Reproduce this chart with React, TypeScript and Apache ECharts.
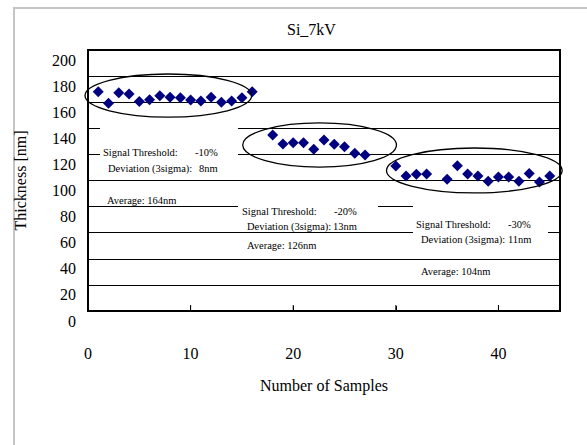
import React, { useEffect, useRef } from "react";
import * as echarts from "echarts";

const chartTitle = "Si_7kV";
const xAxisName = "Number of Samples";
const yAxisName = "Thickness [nm]";

const samplesGroup1 = [1, 2, 3, 4, 5, 6, 7, 8, 9, 10, 11, 12, 13, 14, 15, 16];
const thicknessGroup1 = [168.0, 159.2, 167.3, 166.3, 160.5, 161.9, 165.0, 163.7, 163.4, 161.7, 160.9, 163.7, 159.9, 160.9, 163.4, 168.0];

const samplesGroup2 = [18, 19, 20, 21, 22, 23, 24, 25, 26, 27];
const thicknessGroup2 = [134.9, 128.0, 129.0, 129.0, 123.9, 131.0, 127.7, 125.9, 120.8, 119.5];

const samplesGroup3 = [30, 31, 32, 33, 35, 36, 37, 38, 39, 40, 41, 42, 43, 44, 45];
const thicknessGroup3 = [111.1, 103.4, 104.7, 105.0, 100.9, 111.3, 105.0, 103.4, 99.4, 102.6, 102.6, 99.4, 105.3, 98.9, 103.4];

const xTickValues = [10, 20, 30, 40];

const thresholdLabels = ["-10%", "-20%", "-30%"];
const deviationLabels = ["8nm", "13nm", "11nm"];
const averageLabels = ["Average: 164nm", "Average: 126nm", "Average: 104nm"];

const X_MIN = 0;
const X_MAX = 46;
const Y_MIN = 0;
const Y_MAX = 200;

const FONT = "Liberation Serif, serif";

function pairs(xs: number[], ys: number[]) {
  return xs.map((x, i) => [x, ys[i]]);
}

export default function App() {
  const ref = useRef<HTMLDivElement | null>(null);

  useEffect(() => {
    document.body.style.margin = "0";
    if (!ref.current) return;
    const chart = echarts.init(ref.current, undefined, { renderer: "svg" });

    const data = [
      ...pairs(samplesGroup1, thicknessGroup1),
      ...pairs(samplesGroup2, thicknessGroup2),
      ...pairs(samplesGroup3, thicknessGroup3),
    ];

    chart.setOption({
      animation: false,
      title: {
        text: chartTitle,
        left: 287,
        top: 21,
        padding: 0,
        textStyle: { fontFamily: FONT, fontSize: 16, fontWeight: "normal", color: "#000" },
      },
      grid: { left: 88, top: 50, right: 27, bottom: 134 },
      xAxis: {
        type: "value",
        min: X_MIN,
        max: X_MAX,
        interval: 10,
        name: xAxisName,
        nameLocation: "middle",
        nameGap: 66,
        nameTextStyle: { fontFamily: FONT, fontSize: 16, color: "#000" },
        axisLine: { show: true, onZero: false, lineStyle: { color: "#000", width: 2 } },
        axisTick: { show: true, inside: true, length: 5, lineStyle: { color: "#000", width: 1 } },
        axisLabel: { fontFamily: FONT, fontSize: 16, color: "#000", margin: 34, showMaxLabel: false },
        splitLine: { show: false },
      },
      yAxis: {
        type: "value",
        min: Y_MIN,
        max: Y_MAX,
        interval: 20,
        name: yAxisName,
        nameLocation: "middle",
        nameGap: 60,
        nameTextStyle: { fontFamily: FONT, fontSize: 16, color: "#000" },
        axisLine: { show: true, onZero: false, lineStyle: { color: "#000", width: 2 } },
        axisTick: { show: false },
        axisLabel: { fontFamily: FONT, fontSize: 16, color: "#000", margin: 12, verticalAlign: "top", lineHeight: 20 },
        splitLine: { show: true, lineStyle: { color: "#000", width: 1 } },
      },
      series: [
        {
          type: "scatter",
          data,
          symbol: "diamond",
          symbolSize: 11,
          itemStyle: { color: "#000080", opacity: 1 },
          z: 30,
        },
      ],
    });

    const px = (p: number[]) => chart.convertToPixel({ xAxisIndex: 0, yAxisIndex: 0 }, p) as number[];

    const ellipses = [
      { c: [7.83, 165.1], r: [8.12, 16.5] },
      { c: [22.57, 127.2], r: [7.49, 16.9] },
      { c: [37.65, 107.7], r: [8.56, 17.2] },
    ];
    const ellipseEls = ellipses.map((e) => {
      const p0 = px(e.c);
      const p1 = px([e.c[0] + e.r[0], e.c[1] + e.r[1]]);
      return {
        type: "ellipse",
        shape: { cx: p0[0], cy: p0[1], rx: Math.abs(p1[0] - p0[0]), ry: Math.abs(p1[1] - p0[1]) },
        style: { fill: "none", stroke: "#000", lineWidth: 1.3 },
        z: 60,
      };
    });

    const txt = (text: string, x: number, y: number) => ({
      type: "text",
      x,
      y,
      z: 60,
      style: { text, fill: "#000", fontFamily: FONT, fontSize: 10.5, align: "left", verticalAlign: "middle" },
    });

    const fillRect = (x: number, y: number, w: number, h: number, fill: string, z: number) => ({
      type: "rect",
      shape: { x, y, width: w, height: h },
      style: { fill },
      z,
    });

    const boxes = [
      { x: 103, y: 152, dy: 16.3, tv: 195, dv: 199, ax: 107, ay: 200 },
      { x: 242, y: 211, dy: 15.7, tv: 334, dv: 333, ax: 247, ay: 245 },
      { x: 416, y: 224.5, dy: 14.7, tv: 508, dv: 508, ax: 421, ay: 271 },
    ];

    const texts: any[] = [];
    boxes.forEach((b, i) => {
      texts.push(txt("Signal Threshold:", b.x, b.y));
      texts.push(txt(thresholdLabels[i], b.tv, b.y));
      texts.push(txt("Deviation (3sigma):", b.x + 5, b.y + b.dy));
      texts.push(txt(deviationLabels[i], b.dv, b.y + b.dy));
      texts.push(txt(averageLabels[i], b.ax, b.ay));
    });

    const a = px([X_MIN, Y_MAX]);
    const b = px([X_MAX, Y_MIN]);
    const w = b[0] - a[0];
    const h = b[1] - a[1];

    const frame = [
      fillRect(a[0] - 1, a[1] - 1, w + 2, 2, "#000", 80),
      fillRect(a[0] - 1, b[1] - 1, w + 2, 2, "#000", 80),
      fillRect(a[0] - 1, a[1] - 1, 2, h + 2, "#000", 80),
      fillRect(b[0] - 1, a[1] - 1, 2, h + 2, "#000", 80),
    ];
    const ticks = xTickValues.map((v) => {
      const p = px([v, Y_MIN]);
      return fillRect(p[0] - 0.5, p[1] - 6, 1, 6, "#000", 80);
    });

    chart.setOption({
      graphic: [
        {
          type: "polyline",
          shape: { points: [[14, 445], [14, 8], [587, 8]] },
          style: { fill: null, stroke: "#c4c4c4", lineWidth: 2 },
        },
        fillRect(100, 118, 138, 58, "#ffffff", 50),
        fillRect(238, 196, 140, 24, "#ffffff", 50),
        fillRect(413, 196, 135, 54, "#ffffff", 50),
        ...ellipseEls,
        ...texts,
        ...frame,
        ...ticks,
      ],
    });

    return () => chart.dispose();
  }, []);

  return <div ref={ref} style={{ width: 587, height: 445 }} />;
}
